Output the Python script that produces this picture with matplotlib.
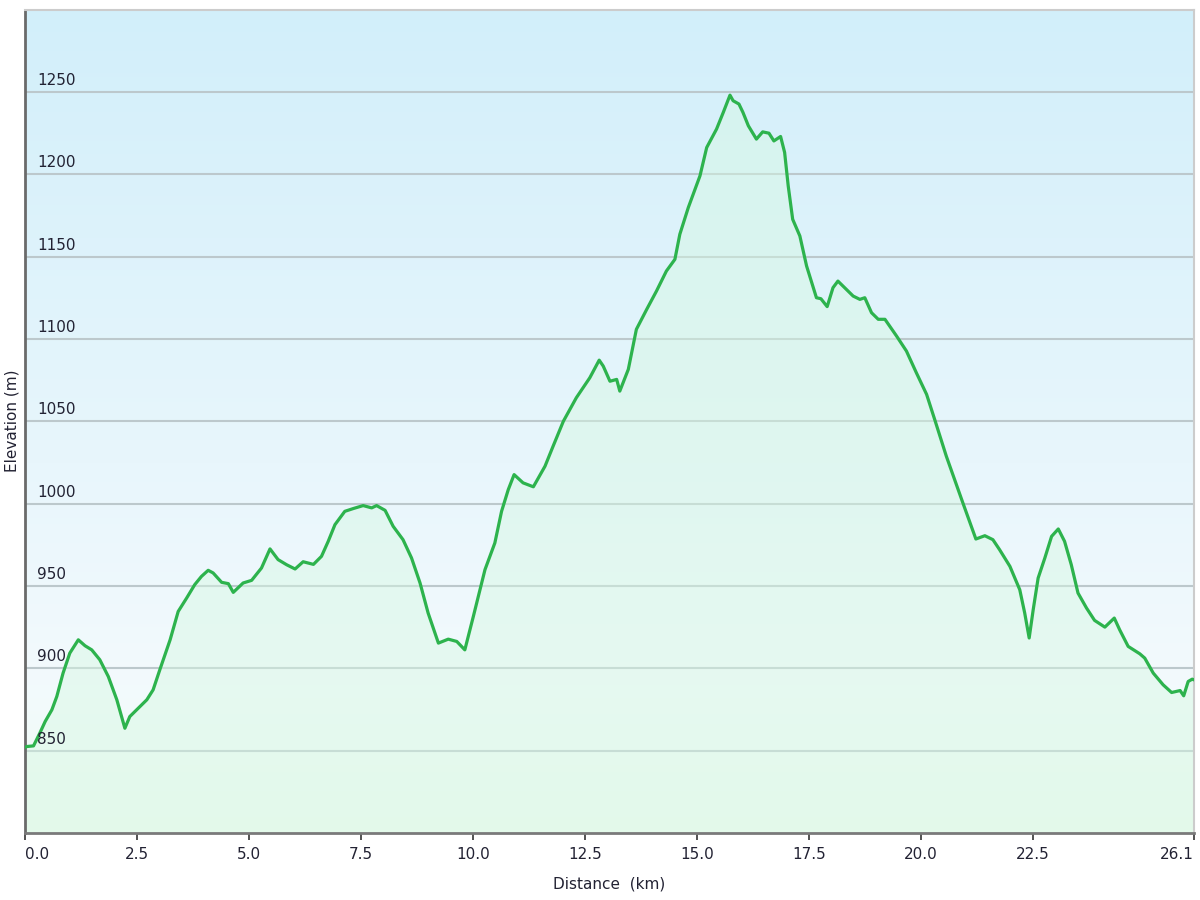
import numpy as np
import matplotlib
matplotlib.use("Agg")
import matplotlib.pyplot as plt
from matplotlib.colors import LinearSegmentedColormap
import matplotlib.transforms as mtransforms

# ---- data ----
distance_km = [
    0.00, 0.04, 0.19, 0.33, 0.45, 0.60, 0.71, 0.85, 1.00, 1.19, 1.34, 1.49, 1.67, 1.86,
    2.05, 2.23, 2.34, 2.53, 2.72, 2.86, 3.01, 3.24, 3.42, 3.61, 3.79, 3.94, 4.09, 4.20,
    4.39, 4.54, 4.65, 4.87, 5.06, 5.28, 5.47, 5.65, 5.84, 6.03, 6.21, 6.44, 6.62, 6.77,
    6.92, 7.14, 7.33, 7.55, 7.74, 7.85, 8.04, 8.22, 8.44, 8.63, 8.82, 9.00, 9.23, 9.45,
    9.64, 9.82, 10.01, 10.27, 10.49, 10.64, 10.79, 10.92, 11.12, 11.35, 11.61, 11.79,
    12.02, 12.31, 12.61, 12.82, 12.91, 13.06, 13.21, 13.28, 13.47, 13.65, 13.88, 14.10,
    14.32, 14.51, 14.62, 14.81, 15.07, 15.22, 15.44, 15.59, 15.74, 15.81, 15.94, 16.03,
    16.15, 16.33, 16.47, 16.61, 16.72, 16.87, 16.96, 17.04, 17.14, 17.30, 17.45, 17.67,
    17.77, 17.91, 18.04, 18.15, 18.30, 18.49, 18.64, 18.75, 18.90, 19.05, 19.20, 19.46,
    19.68, 19.90, 20.13, 20.31, 20.57, 20.94, 21.23, 21.43, 21.61, 21.76, 21.99, 22.21,
    22.32, 22.42, 22.51, 22.62, 22.77, 22.92, 23.07, 23.21, 23.36, 23.51, 23.70, 23.88,
    24.11, 24.32, 24.44, 24.63, 24.89, 25.00, 25.19, 25.41, 25.60, 25.79, 25.87, 25.97,
    26.06, 26.10,
]
elevation_m = [
    852.0, 852.5, 852.9, 860.6, 867.7, 874.8, 882.9, 897.1, 909.2, 917.3, 913.7, 911.2,
    905.2, 895.0, 880.9, 863.6, 870.7, 875.8, 880.9, 886.9, 899.1, 917.3, 934.5, 942.7,
    950.8, 955.8, 959.5, 957.9, 952.2, 951.4, 946.1, 951.8, 953.4, 960.9, 972.5, 966.0,
    962.9, 960.3, 964.7, 963.1, 968.0, 977.1, 987.2, 995.3, 997.0, 998.8, 997.4, 998.8,
    995.9, 986.2, 978.1, 967.0, 951.8, 933.6, 915.3, 917.7, 916.3, 911.2, 931.5, 959.9,
    976.1, 995.3, 1008.5, 1017.6, 1012.6, 1010.2, 1022.7, 1034.8, 1050.0, 1064.3,
    1076.4, 1087.1, 1083.5, 1074.3, 1075.4, 1068.3, 1081.5, 1105.8, 1117.9, 1129.1,
    1141.2, 1148.3, 1163.5, 1179.8, 1199.0, 1216.2, 1227.4, 1237.5, 1248.0, 1244.6,
    1242.6, 1237.5, 1229.4, 1221.3, 1225.7, 1224.9, 1220.2, 1222.9, 1213.2, 1192.9,
    1172.6, 1162.5, 1144.3, 1125.0, 1124.4, 1119.6, 1131.1, 1135.1, 1131.1, 1126.0,
    1124.0, 1125.0, 1115.9, 1111.9, 1111.9, 1101.7, 1092.6, 1079.5, 1066.3, 1051.1,
    1028.8, 1000.4, 978.5, 980.5, 978.1, 972.0, 961.9, 947.7, 933.6, 918.4, 935.6,
    954.8, 967.0, 980.1, 984.6, 977.1, 962.9, 945.7, 936.6, 929.1, 925.0, 930.5, 923.4,
    913.3, 908.8, 906.2, 897.1, 890.0, 885.3, 886.5, 883.3, 892.0, 893.4, 893.0,
]
x_ticks = [0.0, 2.5, 5.0, 7.5, 10.0, 12.5, 15.0, 17.5, 20.0, 22.5, 26.1]
x_tick_labels = ["0.0", "2.5", "5.0", "7.5", "10.0", "12.5", "15.0", "17.5", "20.0", "22.5", "26.1"]
y_ticks = [850, 900, 950, 1000, 1050, 1100, 1150, 1200, 1250]
y_tick_labels = ["850", "900", "950", "1000", "1050", "1100", "1150", "1200", "1250"]

x_label = "Distance  (km)"
y_label = "Elevation (m)"

# ---- figure ----
plt.rcParams['font.family'] = ['DejaVu Sans']
fig = plt.figure(figsize=(12, 9), dpi=100)
ax = fig.add_axes([25 / 1200, 1 - 833 / 900, (1194 - 25) / 1200, (833 - 9.5) / 900])

x0, x1 = 0.0, 26.1
y0, y1 = 800, 1300
ax.set_xlim(x0, x1)
ax.set_ylim(y0, y1)

# background gradient
bg = LinearSegmentedColormap.from_list(
    "bg",
    [(0.0, "#eefcf2"), (0.18, "#f3fafd"), (0.45, "#e8f6fc"), (1.0, "#d2effa")],
)
grad = np.linspace(0, 1, 256).reshape(-1, 1)
ax.imshow(grad, cmap=bg, aspect="auto", extent=[0, 1, 0, 1],
          transform=ax.transAxes, origin="lower", zorder=0)

# grid lines
for yv in y_ticks:
    ax.axhline(yv, color="#bcc8cc", lw=1.5, zorder=1)

# area + line
ax.fill_between(distance_km, elevation_m, y0, color="#d6f8e2", alpha=0.45,
                lw=0, zorder=2)
ax.plot(distance_km, elevation_m, color="#2db34d", lw=2.3, zorder=3,
        solid_joinstyle="round")

# y labels inside plot
ytrans = mtransforms.offset_copy(ax.get_yaxis_transform(), fig=fig, x=12, y=4, units="dots")
for yv, lab in zip(y_ticks, y_tick_labels):
    ax.text(0, yv, lab, transform=ytrans, ha="left", va="bottom",
            fontsize=11, color="#222233", zorder=4)
ax.set_yticks([])

# x ticks
ax.set_xticks(x_ticks)
ax.set_xticklabels(x_tick_labels)
ax.tick_params(axis="x", direction="out", length=5, width=1.2, color="#333333",
               labelsize=11, labelcolor="#222233", pad=5)
xl = ax.get_xticklabels()
xl[0].set_ha("left")
xl[-1].set_ha("right")

# spines
ax.spines["left"].set_color("#6a6a6a")
ax.spines["left"].set_linewidth(2)
ax.spines["bottom"].set_color("#7a7a7a")
ax.spines["bottom"].set_linewidth(2)
for s in ("top", "right"):
    ax.spines[s].set_color("#cccccc")
    ax.spines[s].set_linewidth(1.5)

fig.text(609 / 1200, 1 - 884 / 900, x_label, ha="center", va="center",
         fontsize=11, color="#222233")
fig.text(12 / 1200, 1 - 421 / 900, y_label, ha="center", va="center",
         rotation=90, fontsize=11, color="#222233")

fig.savefig("out.png", dpi=100)
